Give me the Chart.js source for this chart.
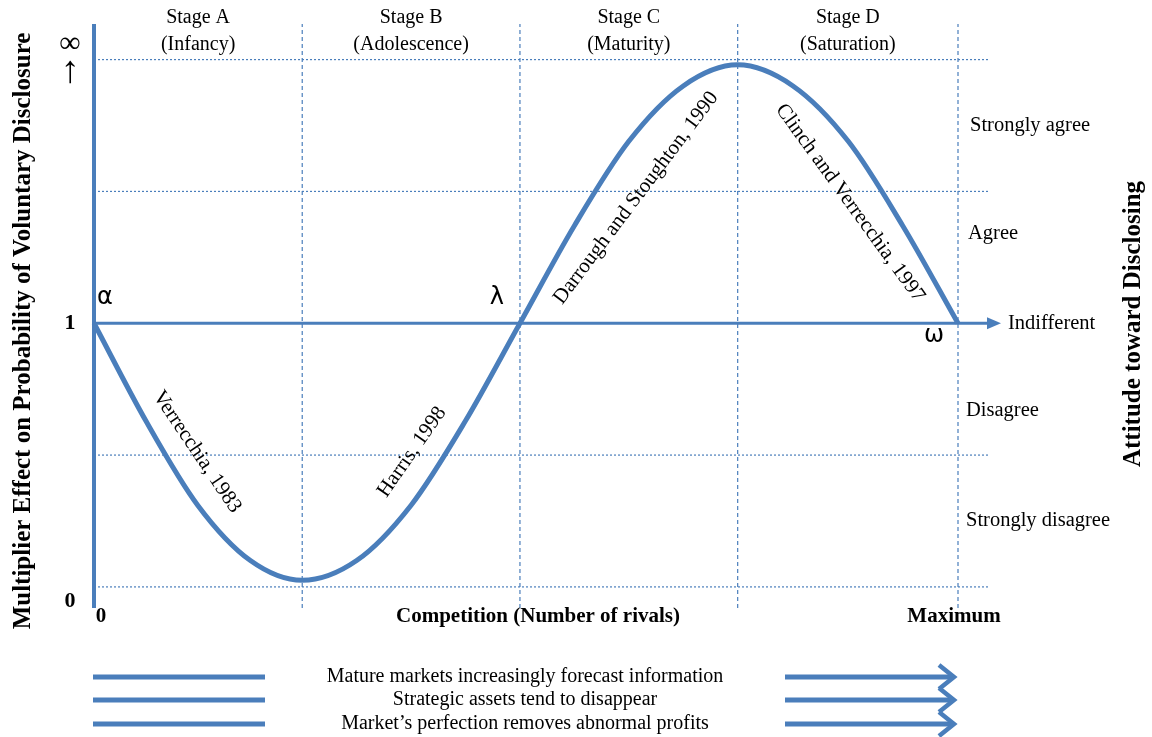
<!DOCTYPE html>
<html>
<head>
<meta charset="utf-8">
<script src="https://cdn.jsdelivr.net/npm/chart.js"></script>
<style>
    html, body { margin: 0; padding: 0; background: #ffffff; }
</style>
</head>
<body>
<canvas id="graficoCicloDivulgacao" width="1152" height="737"></canvas>
<script>
// dados
const estagios = ['Stage A', 'Stage B', 'Stage C', 'Stage D']
const fases = ['(Infancy)', '(Adolescence)', '(Maturity)', '(Saturation)']
const limitesEstagios = [0, 24.1, 49.3, 74.5, 100]
const competicaoX = [0, 6, 12, 18.1, 24.1, 30.4, 36.7, 43, 49.3, 55.6, 61.9, 68.2, 74.5, 80.9, 87.3, 93.6, 100]
const multiplicadorY = [1, 0.63, 0.31, 0.1, 0.025, 0.1, 0.31, 0.63, 1, 1.37, 1.69, 1.9, 1.98, 1.9, 1.69, 1.37, 1]
const niveisGrade = [0, 0.5, 1.5, 2]
const atitudes = ['Strongly agree', 'Agree', 'Indifferent', 'Disagree', 'Strongly disagree']
const niveisAtitude = [1.75, 1.34, 1, 0.67, 0.25]
const citacoes = ['Verrecchia, 1983', 'Harris, 1998', 'Darrough and Stoughton, 1990', 'Clinch and Verrecchia, 1997']
const marcos = ['α', 'λ', 'ω']
const tendencias = ['Mature markets increasingly forecast information', 'Strategic assets tend to disappear', 'Market’s perfection removes abnormal profits']

const azul = '#4a7ebb'
const serif = '"Liberation Serif", "Times New Roman", serif'

let datasets = []

datasets.push({
    label: 'curva',
    data: competicaoX.map((x, i) => ({ x: x, y: multiplicadorY[i] })),
    borderColor: azul,
    borderWidth: 5,
    pointRadius: 0,
    cubicInterpolationMode: 'monotone',
    clip: false
})

// linha do indiferente (y = 1)
datasets.push({
    label: 'base',
    data: [{ x: 0, y: 1 }, { x: 103.8, y: 1 }],
    borderColor: azul,
    borderWidth: 3,
    pointRadius: 0,
    clip: false
})

// eixo vertical
datasets.push({
    label: 'eixo',
    data: [{ x: 0, y: -0.08 }, { x: 0, y: 2.135 }],
    borderColor: azul,
    borderWidth: 4,
    pointRadius: 0,
    clip: false
})

for (let i = 0; i < niveisGrade.length; i++) {
    datasets.push({
        label: 'grade' + i,
        data: [{ x: 0, y: niveisGrade[i] }, { x: 103.7, y: niveisGrade[i] }],
        borderColor: azul,
        borderWidth: 1.2,
        borderDash: [2, 2],
        pointRadius: 0,
        clip: false
    })
}

for (let i = 1; i < limitesEstagios.length; i++) {
    datasets.push({
        label: 'estagio' + i,
        data: [{ x: limitesEstagios[i], y: -0.08 }, { x: limitesEstagios[i], y: 2.135 }],
        borderColor: azul,
        borderWidth: 1.2,
        borderDash: [4, 3],
        pointRadius: 0,
        clip: false
    })
}

const textosPlugin = {
    id: 'textos',
    afterDraw(chart) {
        const ctx = chart.ctx
        const sx = chart.scales.x
        const sy = chart.scales.y
        const px = v => sx.getPixelForValue(v)
        const py = v => sy.getPixelForValue(v)

        function texto(t, x, y, font, align, angle) {
            ctx.save()
            ctx.translate(x, y)
            if (angle) ctx.rotate(angle * Math.PI / 180)
            ctx.font = font
            ctx.fillStyle = '#000000'
            ctx.textAlign = align || 'center'
            ctx.textBaseline = 'middle'
            ctx.fillText(t, 0, 0)
            ctx.restore()
        }

        // estágios
        for (let i = 0; i < estagios.length; i++) {
            let cx = (px(limitesEstagios[i]) + px(limitesEstagios[i + 1])) / 2
            texto(estagios[i], cx, 18, '20px ' + serif)
            texto(fases[i], cx, 45, '20px ' + serif)
        }

        // seta da linha base
        let yb = py(1)
        ctx.save()
        ctx.fillStyle = azul
        ctx.beginPath()
        ctx.moveTo(1001, yb)
        ctx.lineTo(987, yb - 6)
        ctx.lineTo(987, yb + 6)
        ctx.closePath()
        ctx.fill()
        ctx.restore()

        // títulos dos eixos
        texto('Multiplier Effect on Probability of Voluntary Disclosure', 24, 331, 'bold 25px ' + serif, 'center', -90)
        texto('Attitude toward Disclosing', 1134, 324, 'bold 25px ' + serif, 'center', -90)
        texto('∞', 70, 44, '30px ' + serif)
        texto('↑', 70, 72, '38px ' + serif)
        texto('1', 70, py(1), 'bold 22px ' + serif)
        texto('0', 70, 601, 'bold 22px ' + serif)
        texto('0', px(0) + 7, 617, 'bold 21px ' + serif)
        texto('Competition (Number of rivals)', 538, 617, 'bold 21px ' + serif)
        texto('Maximum', 954, 617, 'bold 21px ' + serif)

        // marcos gregos
        texto(marcos[0], px(0) + 11, py(1) - 25, '24px "DejaVu Sans", sans-serif')
        texto(marcos[1], px(limitesEstagios[2]) - 23, py(1) - 25, '24px "DejaVu Sans", sans-serif')
        texto(marcos[2], px(limitesEstagios[4]) - 24, py(1) + 13, '24px "DejaVu Sans", sans-serif')

        // atitudes
        const xAtitude = [970, 968, 1008, 966, 966]
        for (let i = 0; i < atitudes.length; i++) {
            texto(atitudes[i], xAtitude[i], py(niveisAtitude[i]), '20.5px ' + serif, 'left')
        }

        // citações ao longo da curva
        const posCitacoes = [
            { x: 197, y: 452, a: 56 },
            { x: 412, y: 452, a: -55 },
            { x: 636, y: 198, a: -53 },
            { x: 850, y: 203, a: 54 }
        ]
        for (let i = 0; i < citacoes.length; i++) {
            texto(citacoes[i], posCitacoes[i].x, posCitacoes[i].y, '21px ' + serif, 'center', posCitacoes[i].a)
        }

        // tendências e setas inferiores
        const yTend = [677, 700, 724]
        for (let i = 0; i < tendencias.length; i++) {
            let y = yTend[i]
            texto(tendencias[i], 525, y, '20px ' + serif)
            ctx.save()
            ctx.strokeStyle = azul
            ctx.lineWidth = 5
            ctx.beginPath()
            ctx.moveTo(93, y)
            ctx.lineTo(265, y)
            ctx.moveTo(785, y)
            ctx.lineTo(951, y)
            ctx.stroke()
            ctx.lineWidth = 4.5
            ctx.lineJoin = 'miter'
            ctx.beginPath()
            ctx.moveTo(939, y - 12)
            ctx.lineTo(954, y)
            ctx.lineTo(939, y + 12)
            ctx.stroke()
            ctx.restore()
        }
    }
}

const graficoCicloDivulgacao = new Chart(document.getElementById('graficoCicloDivulgacao'), {
    type: 'line',
    data: { datasets: datasets },
    options: {
        responsive: false,
        animation: false,
        layout: {
            padding: { left: 94, right: 194, top: 24, bottom: 129 }
        },
        plugins: {
            legend: { display: false },
            tooltip: { enabled: false }
        },
        scales: {
            x: { type: 'linear', min: 0, max: 100, display: false },
            y: { type: 'linear', min: -0.08, max: 2.135, display: false }
        }
    },
    plugins: [textosPlugin]
})
</script>
</body>
</html>
